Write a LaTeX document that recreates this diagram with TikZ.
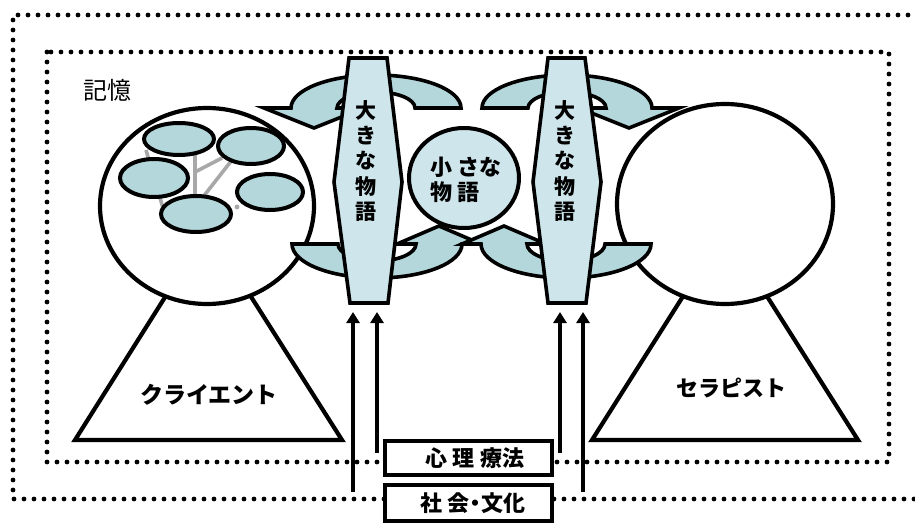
\documentclass[tikz,border=0pt]{standalone}
\usepackage{fontspec}
\newfontfamily\jp{Noto Sans CJK JP}
\usetikzlibrary{shapes.geometric,arrows.meta}
\definecolor{bandc}{HTML}{B4D7DB}
\definecolor{hexc}{HTML}{CDE5EB}
\definecolor{linkc}{HTML}{A8A8A8}
\tikzset{
  dotline/.style={line width=4.8pt, line cap=round, dash pattern=on 0pt off 10pt},
  tri/.style={draw=black, line width=4.2pt, line join=miter, fill=white},
  bigc/.style={ellipse, draw=black, line width=4.2pt, fill=white, inner sep=0pt},
  memo/.style={ellipse, draw=black, line width=4pt, fill=bandc, inner sep=0pt},
  link/.style={draw=linkc, line width=3.6pt},
  arrowband/.style={draw=black, line width=3.6pt, fill=bandc, line join=miter},
  hexs/.style={draw=black, line width=3.6pt, fill=hexc, line join=miter},
  smallc/.style={ellipse, draw=black, line width=4pt, fill=hexc, inner sep=0pt},
  lab/.style={font=\jp\bfseries\fontsize{22}{25}\selectfont, inner sep=0pt},
  vlab/.style={font=\jp\bfseries\fontsize{21}{25.3}\selectfont, inner sep=0pt, align=center},
  upar/.style={draw=black, line width=3.6pt, -{Triangle[width=13pt,length=11pt]}},
  boxs/.style={draw=black, line width=4.5pt, fill=white, inner sep=0pt}
}
\begin{document}
\begin{tikzpicture}[x=1pt,y=1pt]
\useasboundingbox (0,0) rectangle (915,523);
% dotted frames
\draw[dotline] (918,508) -- (13,508) -- (13,24) -- (918,24);
\draw[dotline] (47,471) rectangle (889,61);
% triangles
\draw[tri] (75,83) -- (342,83) -- (208,294) -- cycle;
\draw[tri] (592,83) -- (858,83) -- (725,293) -- cycle;
% big circles
\node[bigc, minimum width=214pt, minimum height=196pt] (client) at (207,317) {};
\node[bigc, minimum width=216pt, minimum height=200pt] (thera) at (725,319) {};
% memory links
\draw[link] (146,373) -- (163,315);
\draw[link] (195,370) -- (195,326);
\draw[link] (195,351) -- (222,365);
\draw[link] (203,326) -- (232,363);
\fill[linkc] (237,316) circle[radius=2.4];
% memory ellipses
\node[memo, minimum width=70pt, minimum height=32pt] (e1) at (179,384) {};
\node[memo, minimum width=66pt, minimum height=36pt] (e2) at (251,377) {};
\node[memo, minimum width=68pt, minimum height=38pt] (e3) at (154,345) {};
\node[memo, minimum width=66pt, minimum height=36pt] (e4) at (270,331) {};
\node[memo, minimum width=70pt, minimum height=36pt] (e5) at (196,309) {};
% curved arrows
\draw[arrowband] (461,415) arc[start angle=0,end angle=180,x radius=85,y radius=33]
  -- (264,415) -- (314,395) -- (364,415) -- (337,415)
  arc[start angle=180,end angle=0,x radius=39,y radius=16] -- cycle;
\draw[arrowband] (482,415) arc[start angle=180,end angle=0,x radius=85,y radius=33]
  -- (679,415) -- (629,395) -- (579,415) -- (606,415)
  arc[start angle=0,end angle=180,x radius=39,y radius=16] -- cycle;
\draw[arrowband] (292,279) arc[start angle=180,end angle=360,x radius=85,y radius=34]
  -- (481,279) -- (439,297) -- (397,279) -- (416,279)
  arc[start angle=360,end angle=180,x radius=39,y radius=17] -- cycle;
\draw[arrowband] (651,279) arc[start angle=0,end angle=-180,x radius=85,y radius=34]
  -- (462,279) -- (504,297) -- (546,279) -- (527,279)
  arc[start angle=-180,end angle=0,x radius=39,y radius=17] -- cycle;
% hexagons (big narratives)
\draw[hexs] (349,465) -- (387,465) -- (402,341) -- (388,220) -- (350,220) -- (334,341) -- cycle;
\draw[hexs] (548,465) -- (585,465) -- (601,341) -- (586,220) -- (548,220) -- (533,341) -- cycle;
\node[vlab] (bigL) at (366,362) {大\\き\\な\\物\\語};
\node[vlab] (bigR) at (565,362) {大\\き\\な\\物\\語};
% small narrative
\node[smallc, minimum width=110pt, minimum height=100pt] (small) at (464,345) {};
\node[lab, align=left] (smalltxt) at (466,343) {小 さな\\物 語};
% labels
\node[font=\jp\fontsize{24}{26}\selectfont, inner sep=0pt] (kioku) at (107,433) {記憶};
\node[lab, font=\jp\bfseries\fontsize{23}{25}\selectfont] (clientlab) at (209,128) {クライエント};
\node[lab] (theralab) at (731,135) {セラピスト};
% upward arrows
\coordinate (a1s) at (353,31);  \coordinate (a1e) at (353,211);
\coordinate (a2s) at (377,70);  \coordinate (a2e) at (377,211);
\coordinate (a3s) at (560,70);  \coordinate (a3e) at (560,211);
\coordinate (a4s) at (583,31);  \coordinate (a4e) at (583,211);
\draw[upar] (a1s) -- (a1e);
\draw[upar] (a2s) -- (a2e);
\draw[upar] (a3s) -- (a3e);
\draw[upar] (a4s) -- (a4e);
% boxes
\node[boxs, minimum width=167pt, minimum height=34pt] (psy) at (468.5,65) {};
\node[lab] (psylab) at (475,65) {心 理 療法};
\node[boxs, minimum width=167pt, minimum height=36pt] (soc) at (468.5,20) {};
\node[lab] (soclab) at (473,20) {社 会\kern-5pt・\kern-5pt文化};
\end{tikzpicture}
\end{document}
